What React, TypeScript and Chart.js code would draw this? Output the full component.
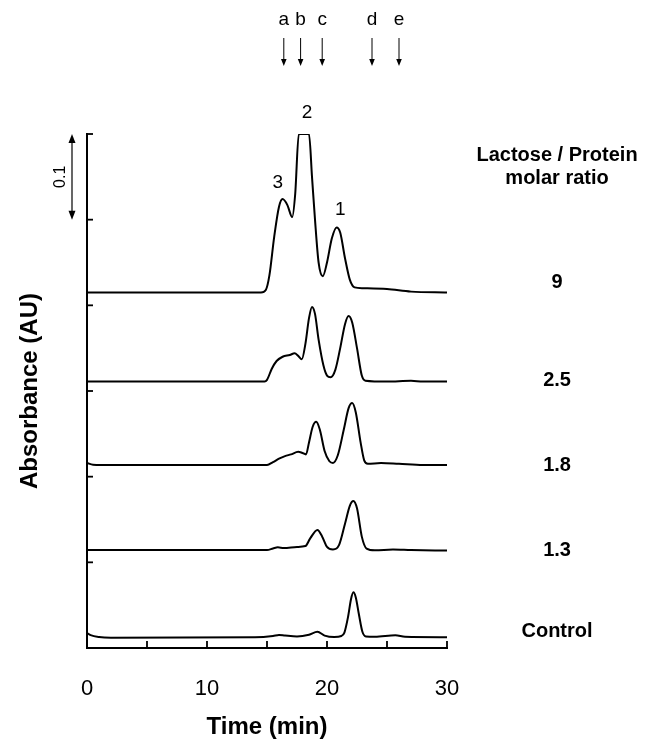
import React, { useEffect, useRef } from "react";
import { Chart, registerables } from "chart.js";

Chart.register(...registerables);

const FONT = "'Liberation Sans', Arial, Helvetica, sans-serif";

// Axis ticks
const timeTicks = [0, 5, 10, 15, 20, 25, 30];
const absorbanceTicks = [0, 0.1, 0.2, 0.3, 0.4, 0.5, 0.6];

// Lactose / Protein molar ratio 9
const time9 = [0, 1, 14.5, 14.9, 15.2, 15.6, 16.0, 16.3, 16.7, 17.1, 17.35, 17.65, 18.5, 18.75, 19.0, 19.3, 19.65, 20.0, 20.4, 20.8, 21.1, 21.5, 21.9, 22.3, 23, 25, 27, 30];
const abs9 = [0.415, 0.415, 0.415, 0.418, 0.435, 0.48, 0.515, 0.524, 0.517, 0.503, 0.53, 0.6, 0.6, 0.55, 0.5, 0.45, 0.434, 0.45, 0.478, 0.491, 0.485, 0.455, 0.43, 0.421, 0.42, 0.419, 0.416, 0.415];

// ratio 2.5
const time25 = [0, 14.8, 15.0, 15.4, 15.8, 16.3, 16.9, 17.3, 17.6, 17.9, 18.2, 18.5, 18.75, 19.0, 19.3, 19.7, 20.0, 20.3, 20.7, 21.1, 21.5, 21.8, 22.1, 22.5, 22.9, 23.2, 25, 27, 28, 30];
const abs25 = [0.311, 0.311, 0.313, 0.326, 0.335, 0.34, 0.342, 0.344, 0.341, 0.337, 0.355, 0.385, 0.398, 0.39, 0.36, 0.33, 0.318, 0.316, 0.325, 0.35, 0.378, 0.3875, 0.38, 0.35, 0.318, 0.312, 0.311, 0.312, 0.311, 0.311];

// ratio 1.8
const time18 = [0, 0.5, 2, 15, 15.5, 16.0, 16.5, 17.0, 17.6, 17.9, 18.25, 18.5, 18.8, 19.1, 19.4, 19.8, 20.2, 20.5, 20.9, 21.4, 21.8, 22.1, 22.4, 22.8, 23.1, 23.4, 24.5, 26, 28, 30];
const abs18 = [0.216, 0.214, 0.2136, 0.2136, 0.217, 0.221, 0.224, 0.226, 0.229, 0.228, 0.226, 0.24, 0.258, 0.264, 0.255, 0.23, 0.218, 0.216, 0.225, 0.255, 0.28, 0.286, 0.275, 0.24, 0.219, 0.215, 0.216, 0.215, 0.2136, 0.2136];

// ratio 1.3
const time13 = [0, 15.0, 15.5, 15.9, 16.4, 17.5, 18.2, 18.6, 19.2, 19.6, 20.0, 20.5, 21.0, 21.5, 21.9, 22.2, 22.5, 22.9, 23.3, 24, 25.5, 27, 30];
const abs13 = [0.1144, 0.1144, 0.1162, 0.1175, 0.1168, 0.118, 0.119, 0.128, 0.1377, 0.13, 0.118, 0.115, 0.12, 0.145, 0.166, 0.1716, 0.163, 0.13, 0.116, 0.114, 0.115, 0.1144, 0.1137];

// Control
const timeCtrl = [0, 0.3, 1, 2, 14, 15.5, 16.0, 16.5, 17.5, 18.5, 19.2, 19.8, 20.6, 21.2, 21.45, 21.75, 22.0, 22.2, 22.4, 22.65, 22.95, 23.25, 24, 25.7, 26.5, 30];
const absCtrl = [0.0175, 0.015, 0.0128, 0.012, 0.0125, 0.014, 0.0152, 0.0145, 0.0135, 0.0155, 0.019, 0.0145, 0.0128, 0.014, 0.018, 0.036, 0.057, 0.065, 0.059, 0.04, 0.019, 0.0135, 0.013, 0.0148, 0.013, 0.0125];

const seriesTimes = [time9, time25, time18, time13, timeCtrl];
const seriesValues = [abs9, abs25, abs18, abs13, absCtrl];
const seriesNames = ["9", "2.5", "1.8", "1.3", "Control"];
const seriesLabelY = [0.427, 0.3117, 0.2136, 0.1144, 0.0187];

const headerLines = ["Lactose / Protein", "molar ratio"];
const headerY = [0.5755, 0.5486];
const rightLabelTime = 39.17;

const markerLetters = ["a", "b", "c", "d", "e"];
const markerTimes = [16.4, 17.8, 19.6, 23.75, 26.0];

const peakNumbers = ["3", "2", "1"];
const peakTimes = [15.9, 18.33, 21.1];
const peakLabelY = [0.543, 0.6245, 0.511];

const scaleBarFrom = 0.6;
const scaleBarTo = 0.5;
const scaleBarText = "0.1";

const overlay = {
  id: "overlay",
  afterDraw(chart: any) {
    const { ctx, scales } = chart;
    const xs = scales.x;
    const ys = scales.y;
    const left = chart.chartArea.left;
    const bottom = chart.chartArea.bottom;
    ctx.save();
    ctx.strokeStyle = "#000";
    ctx.fillStyle = "#000";
    // inward ticks
    ctx.lineWidth = 1.8;
    timeTicks.forEach((t) => {
      const px = xs.getPixelForValue(t);
      ctx.beginPath();
      ctx.moveTo(px, bottom);
      ctx.lineTo(px, bottom - 7);
      ctx.stroke();
    });
    absorbanceTicks.forEach((v) => {
      const py = ys.getPixelForValue(v);
      ctx.beginPath();
      ctx.moveTo(left, py);
      ctx.lineTo(left + 6, py);
      ctx.stroke();
    });

    // top markers
    ctx.font = `19px ${FONT}`;
    ctx.textAlign = "center";
    ctx.textBaseline = "middle";
    markerLetters.forEach((l, i) => {
      const px = xs.getPixelForValue(markerTimes[i]);
      ctx.fillText(l, px, 20);
      ctx.lineWidth = 1;
      ctx.beginPath();
      ctx.moveTo(px, 38);
      ctx.lineTo(px, 60);
      ctx.stroke();
      ctx.beginPath();
      ctx.moveTo(px - 2.8, 59);
      ctx.lineTo(px + 2.8, 59);
      ctx.lineTo(px, 66);
      ctx.closePath();
      ctx.fill();
    });

    // peak numbers
    peakNumbers.forEach((n, i) => {
      ctx.fillText(n, xs.getPixelForValue(peakTimes[i]), ys.getPixelForValue(peakLabelY[i]));
    });

    // scale bar
    const y1 = ys.getPixelForValue(scaleBarFrom);
    const y2 = ys.getPixelForValue(scaleBarTo);
    const bx = 72;
    ctx.lineWidth = 1.2;
    ctx.beginPath();
    ctx.moveTo(bx, y1 + 6);
    ctx.lineTo(bx, y2 - 6);
    ctx.stroke();
    ctx.beginPath();
    ctx.moveTo(bx, y1);
    ctx.lineTo(bx - 3.5, y1 + 9);
    ctx.lineTo(bx + 3.5, y1 + 9);
    ctx.closePath();
    ctx.fill();
    ctx.beginPath();
    ctx.moveTo(bx, y2);
    ctx.lineTo(bx - 3.5, y2 - 9);
    ctx.lineTo(bx + 3.5, y2 - 9);
    ctx.closePath();
    ctx.fill();
    ctx.save();
    ctx.translate(61, (y1 + y2) / 2);
    ctx.rotate(-Math.PI / 2);
    ctx.font = `16px ${FONT}`;
    ctx.fillText(scaleBarText, 0, 0);
    ctx.restore();

    // right labels
    const rx = xs.getPixelForValue(rightLabelTime);
    ctx.font = `bold 20px ${FONT}`;
    headerLines.forEach((h, i) => ctx.fillText(h, rx, ys.getPixelForValue(headerY[i])));
    seriesNames.forEach((n, i) => ctx.fillText(n, rx, ys.getPixelForValue(seriesLabelY[i])));
    ctx.restore();
  },
};

export default function App() {
  const ref = useRef<HTMLCanvasElement | null>(null);
  useEffect(() => {
    document.body.style.margin = "0";
    const canvas = ref.current;
    if (!canvas) return;
    const datasets = seriesTimes.map((ts, i) => ({
      label: seriesNames[i],
      data: ts.map((t, j) => ({ x: t, y: seriesValues[i][j] })),
      borderColor: "#000",
      borderWidth: 2,
      pointRadius: 0,
      fill: false,
      cubicInterpolationMode: "monotone" as const,
      showLine: true,
    }));
    const chart = new Chart(canvas, {
      type: "line",
      data: { datasets },
      options: {
        animation: false,
        responsive: false,
        devicePixelRatio: 1,
        layout: { padding: { top: 134, right: 198, left: 0, bottom: 0 } },
        plugins: { legend: { display: false }, tooltip: { enabled: false } },
        scales: {
          x: {
            type: "linear",
            min: 0,
            max: 30,
            afterFit: (s: any) => {
              s.height = 96;
            },
            afterBuildTicks: (s: any) => {
              s.ticks = timeTicks.map((v) => ({ value: v }));
            },
            ticks: {
              callback: (v: any) => (Number(v) % 10 === 0 ? String(v) : ""),
              font: { family: FONT, size: 22 },
              color: "#000",
              padding: 28,
              maxRotation: 0,
              autoSkip: false,
            },
            grid: { drawOnChartArea: false, drawTicks: false },
            border: { display: true, color: "#000", width: 2 },
            title: {
              display: true,
              text: "Time (min)",
              font: { family: FONT, size: 24, weight: "bold" },
              color: "#000",
              padding: { top: 0, bottom: 2 },
            },
          },
          y: {
            type: "linear",
            min: 0,
            max: 0.6,
            afterFit: (s: any) => {
              s.width = 87;
            },
            afterBuildTicks: (s: any) => {
              s.ticks = absorbanceTicks.map((v) => ({ value: v }));
            },
            ticks: { display: false },
            grid: { drawOnChartArea: false, drawTicks: false },
            border: { display: true, color: "#000", width: 2 },
            title: {
              display: true,
              text: "Absorbance (AU)",
              font: { family: FONT, size: 24, weight: "bold" },
              color: "#000",
              padding: { top: 16, bottom: 0 },
            },
          },
        },
      },
      plugins: [overlay],
    });
    return () => chart.destroy();
  }, []);
  return (
    <div style={{ width: 645, height: 744, background: "#fff" }}>
      <canvas ref={ref} width={645} height={744} style={{ display: "block" }} />
    </div>
  );
}
